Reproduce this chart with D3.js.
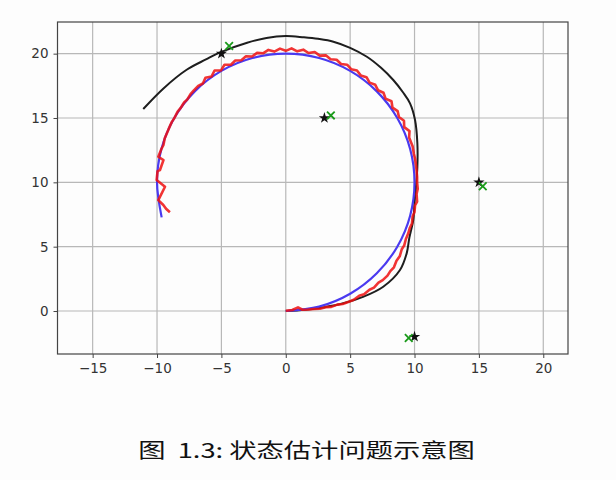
<!DOCTYPE html>
<html><head><meta charset="utf-8">
<script src="https://cdn.jsdelivr.net/npm/d3@7"></script>
<style>body{margin:0;background:#fff}svg{display:block}</style>
</head><body>
<script>
// ---- data ----
const xTicks = [-15, -10, -5, 0, 5, 10, 15, 20];
const yTicks = [0, 5, 10, 15, 20];
const caption = "图  1.3: 状态估计问题示意图";
// true trajectory (blue)
const trueX = [0, 2.59, 5.0, 7.07, 8.66, 9.66, 10, 9.66, 8.66, 7.07, 5.0, 2.59, 0, -2.59, -5.0, -7.07, -8.66, -9.66, -10, -9.64];
const trueY = [0, 0.34, 1.34, 2.93, 5.0, 7.41, 10, 12.59, 15.0, 17.07, 18.66, 19.66, 20, 19.66, 18.66, 17.07, 15.0, 12.59, 10, 7.28];
// estimated trajectory (red)
const estX = [0, 0.5, 0.95, 1.3, 1.76, 2.2, 2.65, 3.1, 3.54, 4.0, 4.42, 4.9, 5.28, 5.7, 6.08, 6.5, 6.85, 7.2, 7.53, 7.9, 8.12, 8.4, 8.6, 8.85, 9.01, 9.2, 9.33, 9.5, 9.63, 9.8, 9.85, 10.0, 10.04, 10.2, 10.16, 10.25, 10.2, 10.2, 10.16, 10.12, 10.05, 9.95, 9.85, 9.58, 9.61, 9.2, 9.18, 8.79, 8.69, 8.29, 8.21, 7.75, 7.59, 7.16, 6.95, 6.51, 6.27, 5.82, 5.53, 5.08, 4.76, 4.29, 3.95, 3.48, 3.11, 2.64, 2.25, 1.77, 1.36, 0.89, 0.45, 0, -0.45, -0.89, -1.35, -1.77, -2.23, -2.62, -3.09, -3.45, -3.92, -4.26, -4.76, -5.03, -5.53, -5.76, -6.24, -6.44, -6.8, -7.14, -7.4, -7.66, -7.9, -8.19, -8.4, -8.66, -8.85, -9.06, -9.2, -9.4, -9.5, -9.66, -9.9, -9.5, -9.77, -9.96, -10.03, -9.38, -9.9, -9.51, -9.3, -9.0];
const estY = [0.02, 0.08, 0.28, 0.1, 0.12, 0.16, 0.18, 0.3, 0.32, 0.5, 0.55, 0.72, 0.88, 1.18, 1.3, 1.65, 1.82, 2.2, 2.4, 2.75, 3.1, 3.4, 3.9, 4.25, 4.8, 5.1, 5.6, 6.0, 6.45, 6.8, 7.35, 7.7, 8.2, 8.5, 9.1, 9.5, 10.0, 10.4, 10.9, 11.3, 11.8, 12.2, 12.8, 13.49, 13.98, 14.29, 14.78, 15.08, 15.53, 15.8, 16.3, 16.51, 16.96, 17.16, 17.58, 17.75, 18.17, 18.31, 18.69, 18.79, 19.14, 19.2, 19.53, 19.57, 19.87, 19.85, 20.13, 20.05, 20.31, 20.18, 20.41, 20.22, 20.39, 20.16, 20.29, 20.03, 20.06, 19.78, 19.8, 19.49, 19.47, 19.14, 19.14, 18.7, 18.69, 18.23, 18.13, 17.68, 17.5, 17.14, 16.85, 16.43, 16.2, 15.74, 15.5, 14.98, 14.7, 14.23, 13.9, 13.42, 12.9, 12.59, 11.99, 11.73, 10.96, 10.87, 10.18, 9.66, 8.62, 8.24, 7.95, 7.67];
// odometry / dead-reckoning (black)
const odoX = [0, 1.5, 3.0, 4.47, 6.0, 7.57, 8.87, 9.39, 9.6, 9.9, 10.0, 10.1, 10.22, 10.22, 10.04, 9.65, 9.1, 8.35, 7.4, 6.3, 5.0, 3.7, 2.5, 1.4, 0, -1.5, -3.0, -5.1, -6.2, -7.7, -9.5, -11.07];
const odoY = [0, 0.1, 0.3, 0.6, 1.1, 1.89, 3.19, 4.48, 5.7, 7.07, 8.4, 9.5, 11.2, 13.03, 14.84, 16.14, 17.0, 17.95, 18.9, 19.76, 20.45, 20.93, 21.15, 21.27, 21.37, 21.22, 20.85, 20.1, 19.55, 18.75, 17.3, 15.7];
// landmarks: true (black) and estimated (green)
const lmX = [-5, 3, 15, 10];
const lmY = [20, 15, 10, -2];
const lmEstX = [-4.4, 3.5, 15.3, 9.55];
const lmEstY = [20.6, 15.2, 9.7, -2.1];

// ---- drawing ----
const W = 616, H = 480;
const L = 57.5, R = 568, T = 22, B = 354;
const x = d3.scaleLinear().domain([-17.73, 21.92]).range([L, R]);
const y = d3.scaleLinear().domain([-3.34, 22.46]).range([B, T]);

const svg = d3.select("body").append("svg").attr("width", W).attr("height", H);
svg.append("rect").attr("width", W).attr("height", H).attr("fill", "#fdfdfd");

const grid = svg.append("g").attr("stroke", "#b8b8b8").attr("stroke-width", 1.2);
grid.selectAll(".gx").data(xTicks).join("line")
  .attr("x1", d => x(d)).attr("x2", d => x(d)).attr("y1", T).attr("y2", B);
grid.selectAll(".gy").data(yTicks).join("line")
  .attr("y1", d => y(d)).attr("y2", d => y(d)).attr("x1", L).attr("x2", R);

const fmt = d => d < 0 ? "\u2212" + Math.abs(d) : String(d);
const xAxis = svg.append("g").attr("transform", `translate(0,${B})`)
  .call(d3.axisBottom(x).tickValues(xTicks).tickFormat(fmt).tickSize(4).tickPadding(5));
const yAxis = svg.append("g").attr("transform", `translate(${L},0)`)
  .call(d3.axisLeft(y).tickValues(yTicks).tickFormat(fmt).tickSize(4).tickPadding(5));
[xAxis, yAxis].forEach(a => {
  a.select(".domain").remove();
  a.selectAll("line").attr("stroke", "#444");
  a.selectAll("text").attr("fill", "#333").style("font-family", "'DejaVu Sans'").style("font-size", "13.5px");
});

svg.append("clipPath").attr("id", "clip").append("rect")
  .attr("x", L).attr("y", T).attr("width", R - L).attr("height", B - T);
const plot = svg.append("g").attr("clip-path", "url(#clip)");

const mk = (xs, ys) => xs.map((v, i) => [v, ys[i]]);
const line = d3.line().x(d => x(d[0])).y(d => y(d[1]));
const smooth = d3.line().x(d => x(d[0])).y(d => y(d[1])).curve(d3.curveCatmullRom);

plot.append("path").datum(mk(odoX, odoY)).attr("d", smooth)
  .attr("fill", "none").attr("stroke", "#1e1e1e").attr("stroke-width", 2);
plot.append("path").datum(mk(trueX, trueY)).attr("d", smooth)
  .attr("fill", "none").attr("stroke", "#4a3af0").attr("stroke-width", 2.2);
plot.append("path").datum(mk(estX, estY)).attr("d", line)
  .attr("fill", "none").attr("stroke", "#ee1010").attr("stroke-width", 2.6)
  .attr("stroke-linejoin", "round").attr("opacity", 0.85);

const star = d3.symbol().type(d3.symbolStar).size(40);
plot.selectAll(".lm").data(mk(lmX, lmY)).join("path")
  .attr("d", star).attr("transform", d => `translate(${x(d[0])},${y(d[1])})`)
  .attr("fill", "#111");
const cross = d3.symbol().type(d3.symbolX).size(40);
plot.selectAll(".lme").data(mk(lmEstX, lmEstY)).join("path")
  .attr("d", cross).attr("transform", d => `translate(${x(d[0])},${y(d[1])})`)
  .attr("fill", "none").attr("stroke", "#1a9a1a").attr("stroke-width", 1.8);

svg.append("rect").attr("x", L).attr("y", T).attr("width", R - L).attr("height", B - T)
  .attr("fill", "none").attr("stroke", "#444").attr("stroke-width", 1.2);

svg.append("text").attr("transform", "translate(306.5,458) scale(1.365,1)")
  .attr("text-anchor", "middle").style("white-space", "pre")
  .style("font-family", "'Noto Sans CJK SC'").style("font-size", "20px").attr("fill", "#111")
  .text(caption);
</script>
</body></html>
